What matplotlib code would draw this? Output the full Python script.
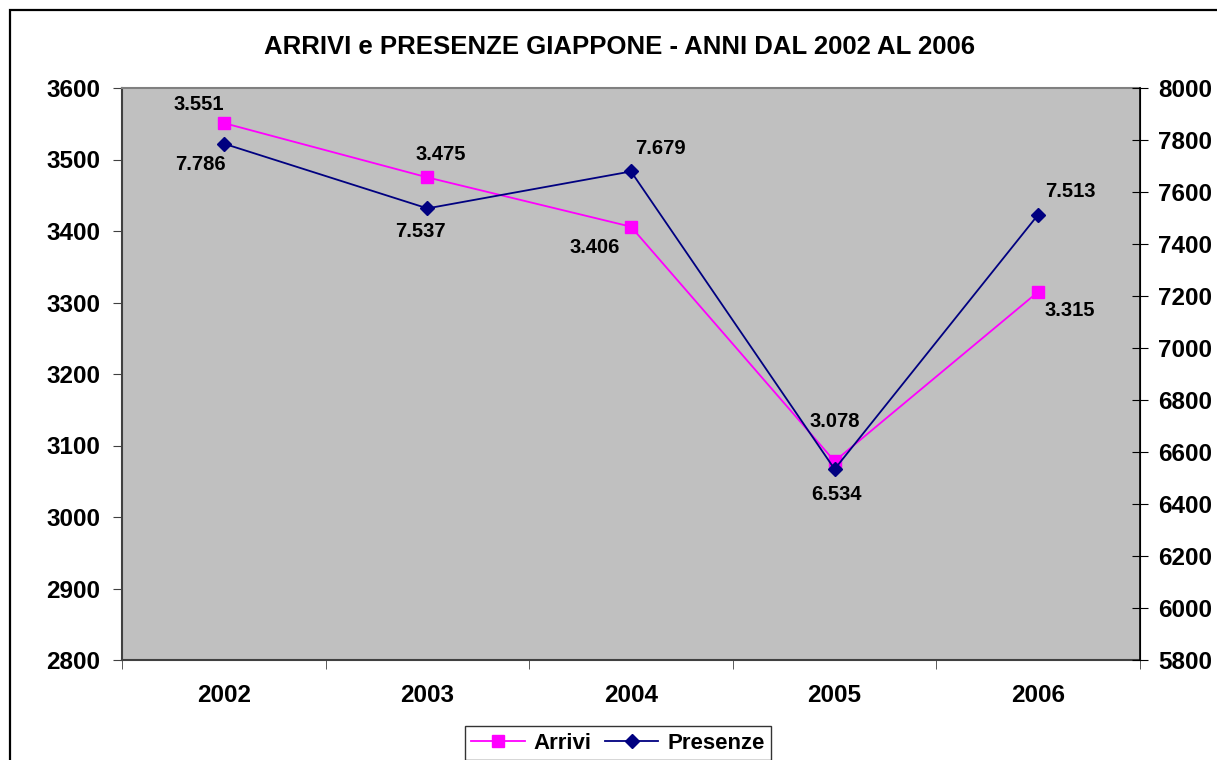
import numpy as np
import matplotlib.pyplot as plt
from matplotlib.patches import Rectangle
from matplotlib.ticker import FixedLocator

plt.rcParams['font.family'] = ['Liberation Sans', 'DejaVu Sans']
plt.rcParams['font.weight'] = 'bold'

# Data
anni = ['2002', '2003', '2004', '2005', '2006']
arrivi = [3551, 3475, 3406, 3078, 3315]
presenze = [7786, 7537, 7679, 6534, 7513]

# label offsets in pixels (dx, dy) relative to each point
off_arrivi = [(-25, 19), (13, 23), (-36, -21), (0, 40), (32, -19)]
off_presenze = [(-23, -21), (-7, -23), (29, 23), (2, -25), (32, 23)]

def fmt(v):
    # italian thousands separator
    return f'{v:,}'.replace(',', '.')

W, H = 1217, 760
fig = plt.figure(figsize=(W / 100, H / 100), dpi=100)
ax = fig.add_axes([122 / W, 1 - 660 / H, (1140 - 122) / W, (660 - 88) / H])
ax2 = ax.twinx()

ax.set_facecolor('#C0C0C0')
x = np.arange(len(anni))

l1, = ax.plot(x, arrivi, color='#FF00FF', lw=1.3, marker='s', ms=8.5,
              label='Arrivi', zorder=3)
l2, = ax2.plot(x, presenze, color='#000080', lw=1.3, marker='D', ms=7,
               label='Presenze', zorder=3)

for xi, v, (dx, dy) in zip(x, arrivi, off_arrivi):
    ax.annotate(fmt(v), (xi, v), xytext=(dx, dy), textcoords='offset pixels',
                ha='center', va='center', fontsize=14.5, fontweight='bold')
for xi, v, (dx, dy) in zip(x, presenze, off_presenze):
    ax2.annotate(fmt(v), (xi, v), xytext=(dx, dy), textcoords='offset pixels',
                 ha='center', va='center', fontsize=14.5, fontweight='bold')

ax.set_xlim(-0.5, 4.5)
ax.set_ylim(2800, 3600)
ax2.set_ylim(5800, 8000)
ax.set_yticks(np.arange(2800, 3601, 100))
ax2.set_yticks(np.arange(5800, 8001, 200))

ax.set_xticks(x)
ax.set_xticklabels(anni)
ax.xaxis.set_minor_locator(FixedLocator(np.arange(-0.5, 4.6, 1)))
ax.tick_params(axis='x', which='major', length=0, pad=17, labelsize=17.5)
ax.tick_params(axis='x', which='minor', length=6.5, direction='out', color='#404040')
ax.tick_params(axis='y', length=6.5, direction='out', pad=9, labelsize=17.5, color='#404040')
ax2.tick_params(axis='y', length=12, direction='inout', pad=7, labelsize=17.5, color='black')
for lab in ax.get_xticklabels() + ax.get_yticklabels() + ax2.get_yticklabels():
    lab.set_fontweight('bold')

ax.spines['top'].set_color('#808080')
ax.spines['bottom'].set_color('#404040')
ax.spines['left'].set_color('#404040')
ax2.spines['right'].set_color('black')
for s in ax2.spines.values():
    s.set_visible(False)
ax2.spines['right'].set_visible(True)
for s in ['top', 'bottom', 'left']:
    ax.spines[s].set_linewidth(1.5)
ax2.spines['right'].set_linewidth(1.2)

fig.text(620 / W, 1 - 47 / H, 'ARRIVI e PRESENZE GIAPPONE - ANNI DAL 2002 AL 2006',
         ha='center', va='center', fontsize=18.5, fontweight='bold')

leg = fig.legend([l1, l2], ['Arrivi', 'Presenze'], loc='upper center',
                 bbox_to_anchor=(618 / W, 1 - 726 / H), ncol=2, fontsize=16,
                 frameon=True, fancybox=False, edgecolor='black',
                 handlelength=2.4, columnspacing=0.6, handletextpad=0.4,
                 borderpad=0.3, borderaxespad=0)
leg.get_frame().set_linewidth(1.0)
for t in leg.get_texts():
    t.set_fontweight('bold')

# outer chart border (cropped on right and bottom)
fig.patches.append(Rectangle((10 / W, -0.05), 1.1, 1 - 10 / H + 0.05,
                             transform=fig.transFigure, fill=False,
                             edgecolor='black', lw=1.6))

fig.savefig('out.png', dpi=100)
